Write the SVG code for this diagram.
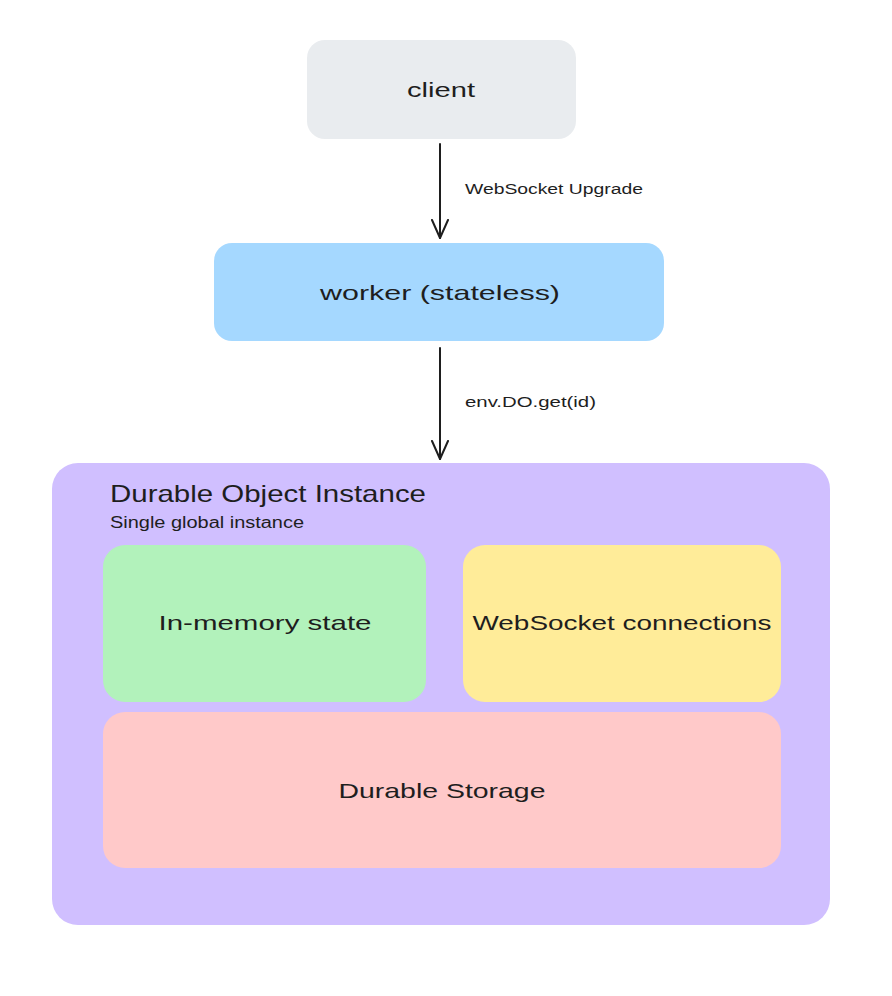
<svg xmlns="http://www.w3.org/2000/svg" width="892" height="996" viewBox="0 0 892 996">
<defs>
<marker id="ah" viewBox="0 0 20 20" refX="19" refY="10" markerWidth="20" markerHeight="20" markerUnits="userSpaceOnUse" orient="auto">
<path d="M1 2 L19 10 L1 18" fill="none" stroke="#1e1e1e" stroke-width="2" stroke-linecap="round" stroke-linejoin="round"/>
</marker>
<style>
text{font-family:"Liberation Sans","Open Sans",sans-serif;fill:#1e1e1e}
.lbl{font-size:21px;text-anchor:middle;dominant-baseline:central}
.edge{font-size:14px}
.conn{stroke:#1e1e1e;stroke-width:2;fill:none;stroke-linecap:round}
</style>
</defs>
<rect width="892" height="996" fill="#ffffff"/>
<g id="client">
<rect x="307" y="40" width="269" height="99" rx="18" fill="#e9ecef"/>
<text class="lbl" x="441" y="89" textLength="68" lengthAdjust="spacingAndGlyphs">client</text>
</g>
<g id="worker">
<rect x="214" y="243" width="450" height="98" rx="18" fill="#a5d8ff"/>
<text class="lbl" x="440" y="292" textLength="240" lengthAdjust="spacingAndGlyphs">worker (stateless)</text>
</g>
<g id="durable-object">
<rect x="52" y="463" width="778" height="462" rx="26" fill="#d0bfff"/>
<text x="110" y="502" font-size="24" textLength="316" lengthAdjust="spacingAndGlyphs">Durable Object Instance</text>
<text x="110" y="528" font-size="16" textLength="194" lengthAdjust="spacingAndGlyphs">Single global instance</text>
</g>
<g id="in-memory">
<rect x="103" y="545" width="323" height="157" rx="22" fill="#b2f2bb"/>
<text class="lbl" x="265" y="622" textLength="213" lengthAdjust="spacingAndGlyphs">In-memory state</text>
</g>
<g id="websockets">
<rect x="463" y="545" width="318" height="157" rx="22" fill="#ffec99"/>
<text class="lbl" x="622" y="622" textLength="299" lengthAdjust="spacingAndGlyphs">WebSocket connections</text>
</g>
<g id="storage">
<rect x="103" y="712" width="678" height="156" rx="22" fill="#ffc9c9"/>
<text class="lbl" x="442" y="790" textLength="207" lengthAdjust="spacingAndGlyphs">Durable Storage</text>
</g>
<g id="connectors">
<path class="conn" d="M440 144 L440 238" marker-end="url(#ah)"/>
<text class="edge" x="465" y="194" textLength="178" lengthAdjust="spacingAndGlyphs">WebSocket Upgrade</text>
<path class="conn" d="M440 348 L440 459" marker-end="url(#ah)"/>
<text class="edge" x="465" y="407" textLength="131" lengthAdjust="spacingAndGlyphs">env.DO.get(id)</text>
</g>
</svg>
